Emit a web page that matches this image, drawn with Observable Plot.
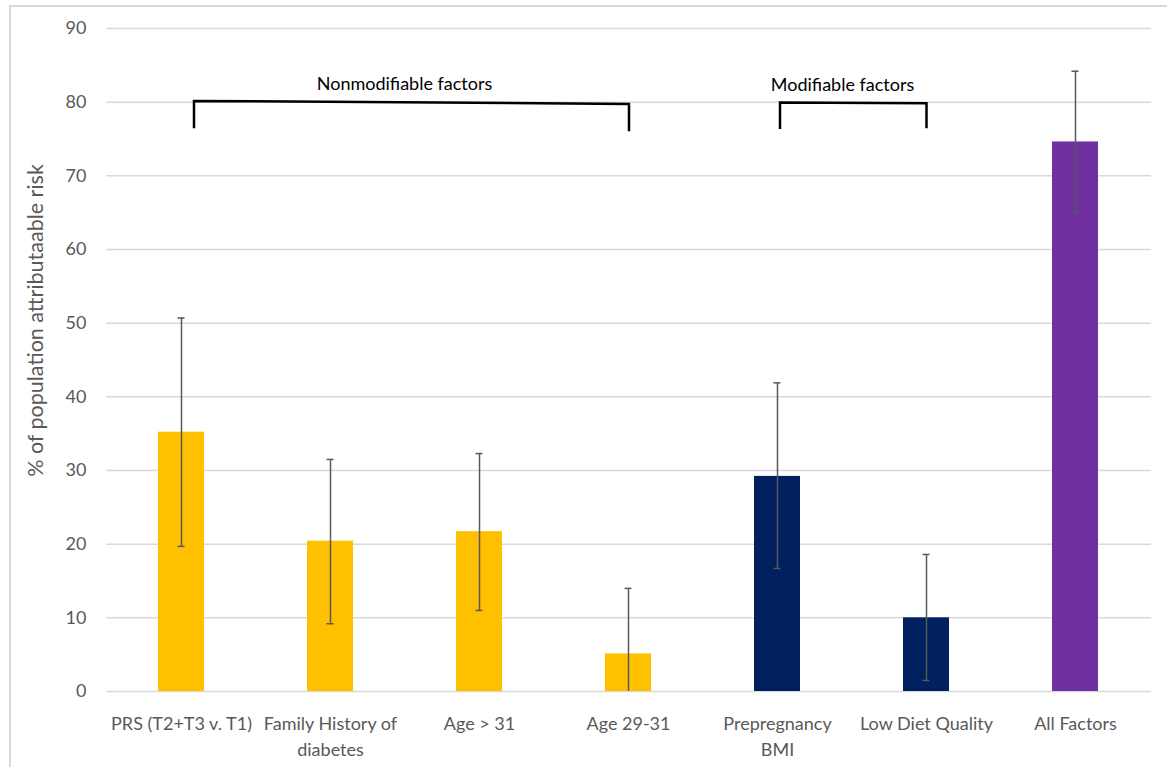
<!DOCTYPE html>
<html><head><meta charset="utf-8">
<script src="https://cdn.jsdelivr.net/npm/d3@7"></script>
<script src="https://cdn.jsdelivr.net/npm/@observablehq/plot@0.6"></script>
<style>
body{margin:0;background:#fff;}
#wrap{position:relative;width:1167px;height:767px;overflow:hidden;background:#fff;}
#frame{position:absolute;left:9px;top:5px;width:1200px;height:800px;border-left:2px solid #d9d9d9;border-top:2px solid #d9d9d9;pointer-events:none;}
#chart{position:absolute;left:0;top:0;}
</style></head><body>
<div id="wrap"><div id="frame"></div><div id="chart"></div></div>
<script>
const categories = ["PRS (T2+T3 v. T1)", "Family History of diabetes", "Age > 31", "Age 29-31", "Prepregnancy BMI", "Low Diet Quality", "All Factors"];
const tickLabels = ["PRS (T2+T3 v. T1)", "Family History of\ndiabetes", "Age > 31", "Age 29-31", "Prepregnancy\nBMI", "Low Diet Quality", "All Factors"];
const values = [35.2, 20.4, 21.7, 5.1, 29.2, 10.0, 74.6];
const lower = [19.7, 9.2, 11.0, 0, 16.7, 1.5, 65.0];
const upper = [50.7, 31.5, 32.3, 14.0, 41.9, 18.6, 84.2];
const groups = ["Nonmodifiable", "Nonmodifiable", "Nonmodifiable", "Nonmodifiable", "Modifiable", "Modifiable", "All"];
const groupNames = ["Nonmodifiable", "Modifiable", "All"];
const groupColors = ["#FFC000", "#002060", "#7030A0"];
const yTicks = [0, 10, 20, 30, 40, 50, 60, 70, 80, 90];
const yLabel = "% of population attributaable risk";
const bracketLabels = ["Nonmodifiable factors", "Modifiable factors"];
const bracketFrom = ["PRS (T2+T3 v. T1)", "Prepregnancy BMI"];
const bracketTo = ["Age 29-31", "Low Diet Quality"];
const bracketTop = [[80.1, 79.7], [79.9, 79.8]];
const bracketBottom = [[76.4, 76.0], [76.3, 76.4]];

const data = categories.map((c, i) => ({cat: c, label: tickLabels[i], value: values[i], lo: lower[i], hi: upper[i], group: groups[i]}));

const font = "Lato, 'Open Sans', sans-serif";
const chart = Plot.plot({
  width: 1167,
  height: 767,
  marginLeft: 106,
  marginRight: 16,
  marginTop: 28,
  marginBottom: 76,
  style: {fontFamily: font, fontSize: "18px", color: "#595959", background: "transparent"},
  x: {domain: categories, paddingInner: 0.69, paddingOuter: 0.345, axis: null},
  y: {domain: [0, 90], axis: null},
  color: {domain: groupNames, range: groupColors},
  marks: [
    Plot.ruleY(yTicks, {stroke: "#d9d9d9", strokeWidth: 1.5}),
    Plot.barY(data, {x: "cat", y: "value", fill: "group"}),
    Plot.ruleX(data, {x: "cat", y1: "lo", y2: "hi", stroke: "#595959", strokeWidth: 1.5}),
    Plot.tickY(data, {x: "cat", y: "hi", stroke: "#595959", strokeWidth: 1.5, insetLeft: 19.5, insetRight: 19.5}),
    Plot.tickY(data.filter(d => d.lo > 0), {x: "cat", y: "lo", stroke: "#595959", strokeWidth: 1.5, insetLeft: 19.5, insetRight: 19.5}),
    Plot.axisY({ticks: yTicks, tickSize: 0, tickPadding: 20, label: null, fontSize: 18, fill: "#595959"}),
    Plot.text(data, {x: "cat", text: "label", frameAnchor: "bottom", lineAnchor: "top", dy: 20, lineHeight: 1.45, fontSize: 18, fill: "#595959"}),
    Plot.text([yLabel], {frameAnchor: "left", textAnchor: "middle", rotate: -90, dx: -70, dy: -39.5, fontSize: 21.5, fill: "#595959"})
  ]
});
document.getElementById("chart").appendChild(chart);

// group brackets drawn from the chart's own scales
const xs = chart.scale("x"), ys = chart.scale("y");
const bw = xs.bandwidth;
const cx = c => xs.apply(c) + bw / 2;
const svg = d3.select(chart);
const offL = [13, 3], offR = [1, 0.5], labelDx = [0, -9];
bracketLabels.forEach((lab, i) => {
  const x1 = cx(bracketFrom[i]) + offL[i], x2 = cx(bracketTo[i]) + offR[i];
  const p = d3.path();
  p.moveTo(x1, ys.apply(bracketBottom[i][0]));
  p.lineTo(x1, ys.apply(bracketTop[i][0]));
  p.lineTo(x2, ys.apply(bracketTop[i][1]));
  p.lineTo(x2, ys.apply(bracketBottom[i][1]));
  svg.append("path").attr("d", p.toString()).attr("fill", "none").attr("stroke", "#000").attr("stroke-width", 2.5);
  svg.append("text")
    .attr("x", (cx(bracketFrom[i]) + cx(bracketTo[i])) / 2 + labelDx[i])
    .attr("y", ys.apply(bracketTop[i][0]) - 11)
    .attr("text-anchor", "middle")
    .attr("font-family", font)
    .attr("font-size", 18)
    .attr("fill", "#000")
    .text(lab);
});
</script>
</body></html>
